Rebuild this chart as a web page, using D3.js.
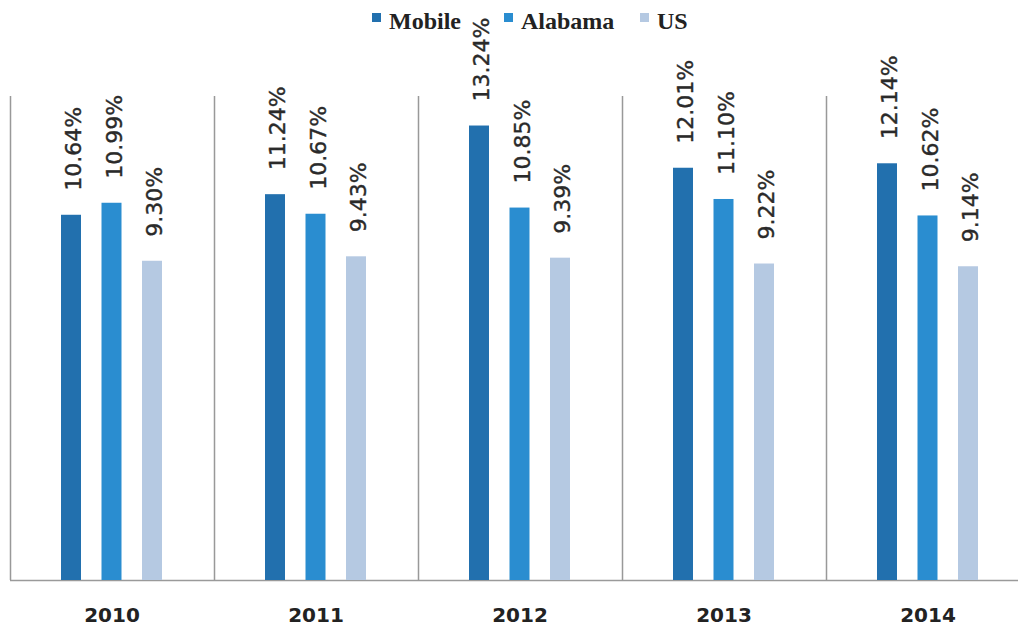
<!DOCTYPE html>
<html>
<head>
<meta charset="utf-8">
<script src="https://cdn.jsdelivr.net/npm/d3@7"></script>
<style>
  body { margin: 0; background: #fff; }
</style>
</head>
<body>
<div id="chart"></div>
<script>
const years = ["2010", "2011", "2012", "2013", "2014"];
const series = ["Mobile", "Alabama", "US"];
const mobile = [10.64, 11.24, 13.24, 12.01, 12.14];
const alabama = [10.99, 10.67, 10.85, 11.10, 10.62];
const us = [9.30, 9.43, 9.39, 9.22, 9.14];
const colors = ["#2270ae", "#2a8dd0", "#b5c9e2"];

const values = [mobile, alabama, us];
const width = 1018, height = 633;

const svg = d3.select("#chart").append("svg")
    .attr("width", width)
    .attr("height", height);

// group scale, each year spans ~204px
const x = d3.scaleBand().domain(years).range([10, 1030]);
const inner = d3.scalePoint().domain(series).range([61, 142]);
const y = d3.scaleLinear().domain([0, 14.1]).range([580, 96]);
const barW = 20;

// vertical separators between groups
svg.append("g").selectAll("line")
  .data(years)
  .join("line")
    .attr("x1", d => x(d) + 0.5)
    .attr("x2", d => x(d) + 0.5)
    .attr("y1", y(14.1))
    .attr("y2", y(0))
    .attr("stroke", "#999")
    .attr("stroke-width", 1.5);

// baseline
svg.append("line")
    .attr("x1", 10).attr("x2", width)
    .attr("y1", y(0) + 0.5).attr("y2", y(0) + 0.5)
    .attr("stroke", "#9a9a9a")
    .attr("stroke-width", 1.5);

// bars + labels
series.forEach((s, i) => {
  const g = svg.append("g");
  g.selectAll("rect")
    .data(years)
    .join("rect")
      .attr("x", d => x(d) + inner(s) - barW / 2)
      .attr("y", (d, j) => y(values[i][j]))
      .attr("width", barW)
      .attr("height", (d, j) => y(0) - y(values[i][j]))
      .attr("fill", colors[i]);

  g.selectAll("text")
    .data(years)
    .join("text")
      .attr("transform", (d, j) =>
        "translate(" + (x(d) + inner(s) + 10) + "," + (y(values[i][j]) - 24) + ") rotate(-90)")
      .attr("font-family", "DejaVu Sans")
      .attr("font-size", 22)
      .attr("fill", "#2a2a2a")
      .attr("stroke", "#2a2a2a")
      .attr("stroke-width", 0.4)
      .text((d, j) => values[i][j].toFixed(2) + "%");
});

// year labels
svg.append("g").selectAll("text")
  .data(years)
  .join("text")
    .attr("x", d => x(d) + x.bandwidth() / 2)
    .attr("y", 622)
    .attr("text-anchor", "middle")
    .attr("font-family", "DejaVu Sans")
    .attr("font-weight", "bold")
    .attr("font-size", 20)
    .attr("fill", "#222")
    .text(d => d);

// legend
const legendX = [372, 504, 640];
const legend = svg.append("g").selectAll("g")
  .data(series)
  .join("g")
    .attr("transform", (d, i) => "translate(" + legendX[i] + ",0)");

legend.append("rect")
    .attr("x", 0).attr("y", 13)
    .attr("width", 9).attr("height", 9)
    .attr("fill", (d, i) => colors[i]);

legend.append("text")
    .attr("x", 17).attr("y", 29)
    .attr("font-family", "Liberation Serif")
    .attr("font-weight", "bold")
    .attr("font-size", 24)
    .attr("fill", "#222")
    .text(d => d);
</script>
</body>
</html>
